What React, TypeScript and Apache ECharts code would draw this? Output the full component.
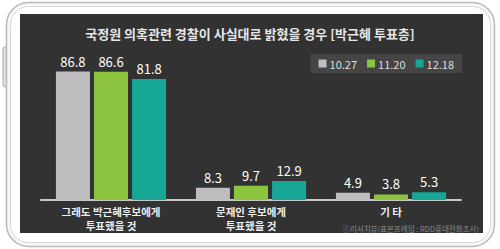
import React, { useEffect, useRef } from "react";
import * as echarts from "echarts";

const title = "국정원 의혹관련 경찰이 사실대로 밝혔을 경우 [박근혜 투표층]";
const categories = ["그래도 박근혜후보에게\n투표했을 것", "문재인 후보에게\n투표했을 것", "기 타"];
const seriesNames = ["10.27", "11.20", "12.18"];
const s1027 = [86.8, 8.3, 4.9];
const s1120 = [86.6, 9.7, 3.8];
const s1218 = [81.8, 12.9, 5.3];
const colors = ["#bebec0", "#8cc43f", "#17a797"];
const source = "ⓒ리서치뷰(표본프레임 : RDD휴대전화조사)";

const FONT = "'Noto Sans CJK KR', 'Noto Sans', sans-serif";

export default function App() {
  const ref = useRef<HTMLDivElement>(null);
  useEffect(() => {
    if (!ref.current) return;
    const chart = echarts.init(ref.current, undefined, { renderer: "svg" });
    const data = [s1027, s1120, s1218];
    chart.setOption({
      animation: false,
      backgroundColor: "#ffffff",
      graphic: [
        {
          type: "rect",
          z: -10,
          shape: { x: 3, y: 47, width: 5, height: 40, r: 2 },
          style: { fill: "#e4e4e4", stroke: "#aaaaaa", lineWidth: 1 },
        },
        {
          type: "rect",
          z: -10,
          shape: { x: 6.5, y: 2.5, width: 488, height: 244, r: 22 },
          style: { fill: "#f7f7f7", stroke: "#b9b9b9", lineWidth: 1.5 },
        },
        {
          type: "rect",
          z: -9,
          shape: { x: 10.5, y: 6.5, width: 480, height: 236, r: 18 },
          style: { fill: "#ffffff", stroke: "#d8d8d8", lineWidth: 1 },
        },
        {
          type: "rect",
          z: -8,
          shape: { x: 20, y: 14, width: 463, height: 219 },
          style: { fill: "#323232" },
        },
        {
          type: "text",
          x: 250,
          y: 33,
          style: {
            text: title,
            fill: "#e6e6e6",
            font: `bold 13px ${FONT}`,
            align: "center",
            verticalAlign: "middle",
          },
        },
        {
          type: "text",
          x: 479,
          y: 228,
          style: {
            text: source,
            fill: "#8a8a8a",
            font: `7.5px ${FONT}`,
            align: "right",
            verticalAlign: "middle",
          },
        },
      ],
      legend: {
        data: seriesNames,
        right: 38,
        top: 54,
        icon: "rect",
        itemWidth: 8,
        itemHeight: 8,
        itemGap: 10,
        padding: [4, 8],
        backgroundColor: "#454545",
        textStyle: { color: "#dddddd", fontSize: 11, fontFamily: FONT, padding: [0, 0, 0, -2] },
      },
      grid: { left: 41, right: 39, top: 52, bottom: 49 },
      xAxis: {
        type: "category",
        data: categories,
        axisLine: { lineStyle: { color: "#c8c8c8", width: 2 } },
        axisTick: { show: false },
        axisLabel: {
          color: "#f0f0f0",
          fontSize: 10.5,
          fontWeight: "bold",
          fontFamily: FONT,
          lineHeight: 14,
          margin: 4,
        },
      },
      yAxis: { type: "value", min: 0, max: 100, show: false, splitLine: { show: false } },
      series: seriesNames.map((name, i) => ({
        name,
        type: "bar",
        data: data[i],
        barWidth: 34,
        barGap: "12%",
        itemStyle: { color: colors[i] },
        label: {
          show: true,
          position: "top",
          distance: 4,
          color: "#ffffff",
          fontSize: 13,
          fontFamily: FONT,
          formatter: (p: any) => p.value.toFixed(1),
        },
      })),
    });
    return () => chart.dispose();
  }, []);
  return (
    <div
      ref={ref}
      style={{ position: "absolute", left: 0, top: 0, width: 500, height: 249 }}
    />
  );
}
